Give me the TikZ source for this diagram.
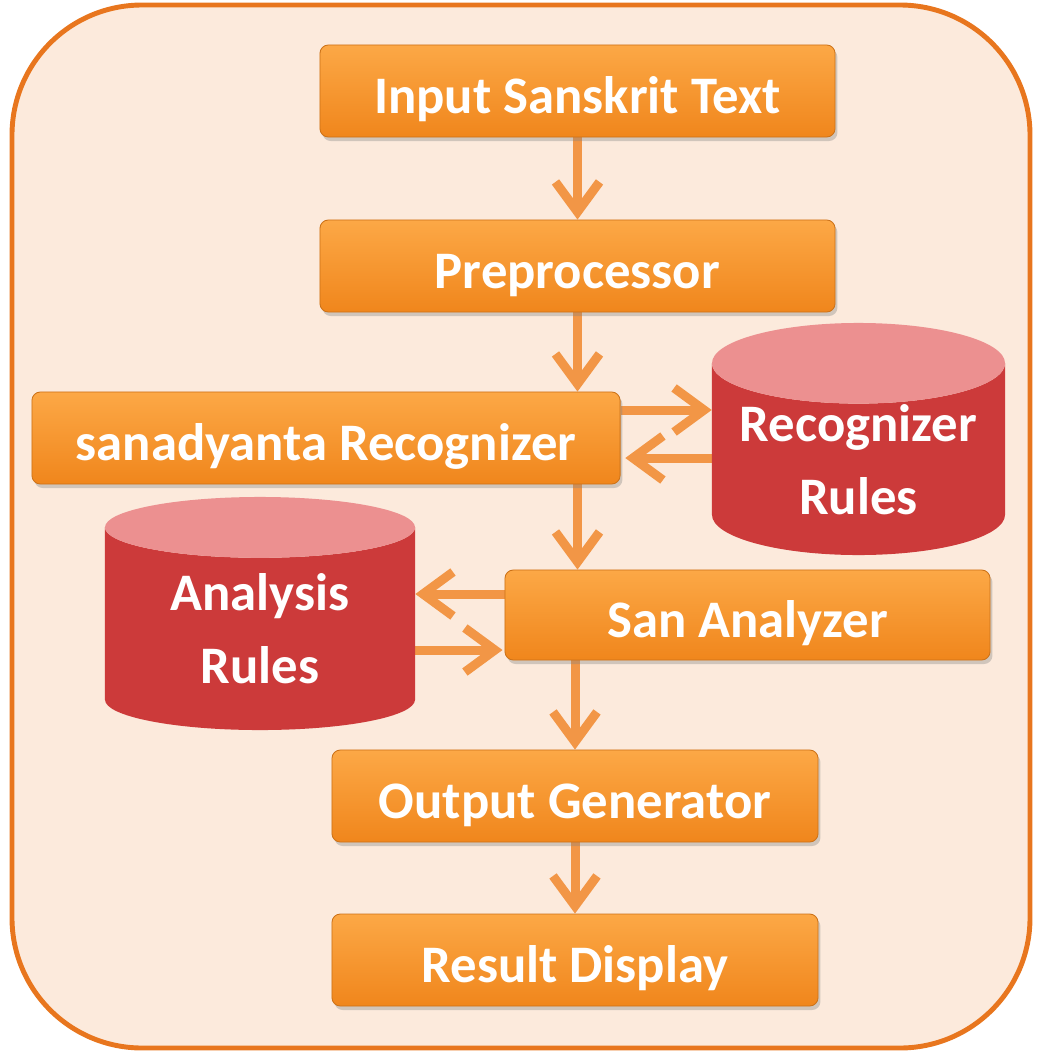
\documentclass[tikz,border=0pt]{standalone}
\usepackage{fontspec}
\setmainfont{Carlito}
\usetikzlibrary{shapes.geometric,arrows.meta,shadows}
\pgfdeclarelayer{framelayer}
\pgfdeclarelayer{edgelayer}
\pgfdeclarelayer{nodelayer}
\pgfsetlayers{framelayer,edgelayer,nodelayer,main}
\definecolor{bgpeach}{RGB}{252,234,220}
\definecolor{frameorange}{RGB}{232,118,30}
\definecolor{boxtop}{RGB}{252,168,70}
\definecolor{boxbot}{RGB}{240,134,28}
\definecolor{flowarrow}{RGB}{242,150,70}
\definecolor{dbbody}{RGB}{204,58,58}
\definecolor{dbtop}{RGB}{236,144,144}
\tikzstyle{frame}=[draw=frameorange, fill=bgpeach, line width=3.5pt, rounded corners=3.25cm]
\tikzstyle{process}=[rectangle, rounded corners=6pt, top color=boxtop, bottom color=boxbot, draw=boxbot!85!black, line width=0.6pt, drop shadow={shadow xshift=0.06cm, shadow yshift=-0.1cm, opacity=0.35}, text=white, font=\fontsize{37.5}{52}\selectfont\bfseries, text height=1.2cm, text depth=0.1cm, minimum height=2.3cm]
\tikzstyle{rulebase}=[cylinder, shape border rotate=90, aspect=0.34, anchor=shape center, cylinder uses custom fill, cylinder body fill=dbbody, cylinder end fill=dbtop, text=white, font=\fontsize{37.5}{52}\selectfont\bfseries, align=center, inner sep=0pt]
\tikzstyle{flow}=[-{Straight Barb[length=0.75cm, width=1.1cm]}, draw=flowarrow, line width=6.4pt]

\begin{document}
\begin{tikzpicture}[x=0.025cm, y=-0.025cm]
    \useasboundingbox (0,0) rectangle (1037,1053);
    \begin{pgfonlayer}{framelayer}
        \draw [style=frame] (12,5) rectangle (1030,1048);
    \end{pgfonlayer}
    \begin{pgfonlayer}{nodelayer}
        \node [style=process, minimum width=12.875cm] (input) at (577.5, 91) {Input Sanskrit Text};
        \node [style=process, minimum width=12.875cm] (prep) at (577.5, 266) {Preprocessor};
        \node [style=process, minimum width=14.7cm] (recog) at (326, 438) {sanadyanta Recognizer};
        \node [style=rulebase, minimum width=7.325cm, minimum height=5.8cm] (rrules) at (858.5, 439) {Recognizer\\Rules};
        \node [style=rulebase, minimum width=7.75cm, minimum height=5.825cm] (arules) at (260, 613.5) {Analysis\\Rules};
        \node [style=process, minimum width=12.125cm, minimum height=2.25cm] (analyzer) at (747.5, 615) {San Analyzer};
        \node [style=process, minimum width=12.15cm] (outgen) at (575, 796) {Output Generator};
        \node [style=process, minimum width=12.15cm] (result) at (575, 960) {Result Display};
    \end{pgfonlayer}
    \begin{pgfonlayer}{edgelayer}
        \draw [style=flow] (input) to (prep);
        \draw [style=flow] (prep.south) to (prep.south |- recog.north);
        \draw [style=flow] (prep.south |- recog.south) to (prep.south |- analyzer.north);
        \draw [style=flow] (outgen.north |- analyzer.south) to (outgen.north);
        \draw [style=flow] (outgen) to (result);

        \draw [style=flow] ([yshift=0.7cm]recog.east) to ([yshift=0.7cm]recog.east -| rrules.west);
        \draw [style=flow] ([yshift=-0.5cm]recog.east -| rrules.west) to ([yshift=-0.5cm, xshift=0.12cm]recog.east);
        \draw [style=flow] ([yshift=0.525cm]analyzer.west) to ([yshift=0.525cm]analyzer.west -| arules.east);
        \draw [style=flow] ([yshift=-0.875cm]analyzer.west -| arules.east) to ([yshift=-0.875cm, xshift=-0.05cm]analyzer.west);
    \end{pgfonlayer}
\end{tikzpicture}
\end{document}
